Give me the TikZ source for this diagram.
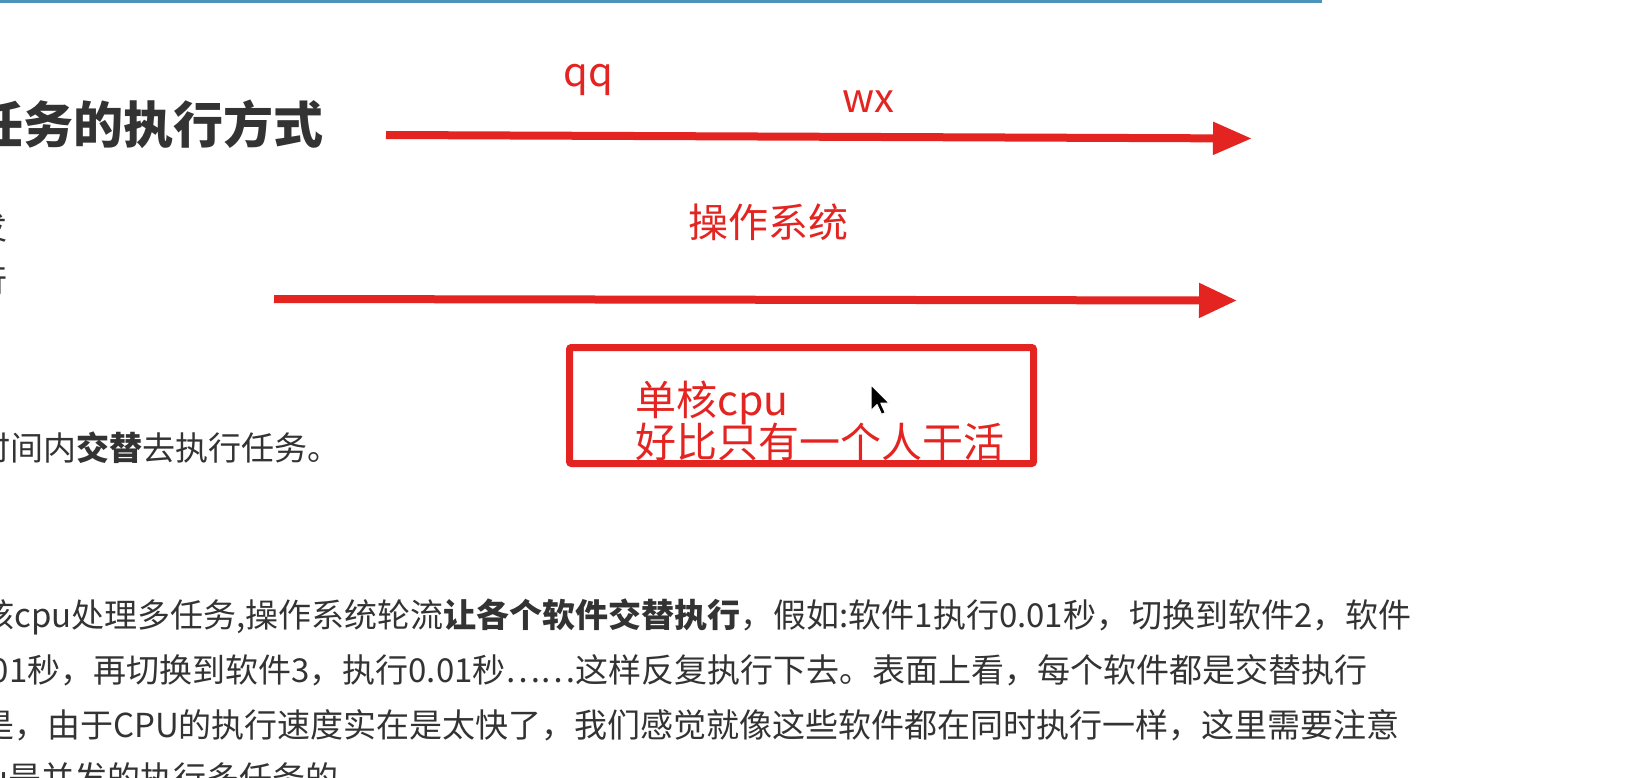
\documentclass[tikz,border=0pt]{standalone}
\usepackage{fontspec}
\setmainfont{Noto Sans CJK SC}
\usetikzlibrary{arrows.meta}
\definecolor{noteRed}{RGB}{228,36,33}
\definecolor{pageText}{RGB}{51,51,51}
\definecolor{ruleBlue}{RGB}{76,148,186}
\begin{document}
\begin{tikzpicture}[x=1pt, y=-1pt]
% Screenshot of a lecture page with red notes on top
\providecommand{\noteArrowWidth}{8pt}
\providecommand{\noteBoxWidth}{7pt}
\tikzset{
  pagetext/.style={inner sep=0pt, anchor=base west, text=pageText, font=\fontsize{33}{33}\selectfont},
  notetext/.style={inner sep=0pt, anchor=base west, text=noteRed, font=\fontsize{40}{40}\selectfont},
  notearrow/.style={draw=noteRed, line width=\noteArrowWidth, line cap=butt}
}
\clip (0,0) rectangle (1650,778);
\fill[white] (0,0) rectangle (1650,778);
% Top rule
\fill[ruleBlue] (0,0) rectangle (1322,3);
% Page text (cut at the left edge)
\node (title) [pagetext, font=\fontsize{50}{50}\selectfont\bfseries] at (-27,144) {任务的执行方式};
\node (itemA) [pagetext] at (-59,239.5) {并发};
\node (itemB) [pagetext] at (-59,293.5) {并行};
\node (concur) [pagetext] at (-23,460.5) {时间内\textbf{交替}去执行任务。};
\node (lineA) [pagetext] at (-19,627) {核cpu处理多任务,操作系统轮流\textbf{让各个软件交替执行}，假如:软件1执行0.01秒，切换到软件2，软件};
\node (lineB) [pagetext] at (-37,682) {0.01秒，再切换到软件3，执行0.01秒……这样反复执行下去。表面上看，每个软件都是交替执行};
\node (lineC) [pagetext] at (-19,737) {是，由于CPU的执行速度实在是太快了，我们感觉就像这些软件都在同时执行一样，这里需要注意};
\node (lineD) [pagetext] at (-49,790) {cpu是并发的执行多任务的。};
% Red notes
\node (qq) [notetext] at (563,87) {qq};
\node (wx) [notetext] at (842,113) {wx};
\node (os) [notetext] at (688,238) {操作系统};
\coordinate (appStart) at (386,135);
\coordinate (appEnd) at (1252,138.5);
\draw[notearrow, -{Triangle[length=39pt, width=31pt]}] (appStart) -- (appEnd);
\coordinate (osStart) at (274,299);
\coordinate (osEnd) at (1237,300.5);
\draw[notearrow, -{Triangle[length=38pt, width=33pt]}] (osStart) -- (osEnd);
\node (cpuA) [notetext, font=\fontsize{41}{41}\selectfont] at (635,415) {单核cpu};
\node (cpuB) [notetext, font=\fontsize{41}{41}\selectfont] at (635,457) {好比只有一个人干活};
\node (cpuBox) [draw=noteRed, line width=\noteBoxWidth, rounded corners=2pt,
  minimum width=464pt, minimum height=116pt, inner sep=0pt] at (801.5,405.5) {};
% Mouse pointer
\begin{scope}[shift={(871,385)}, scale=1.5]
  \filldraw[fill=black, draw=white, line width=1pt, line join=round]
    (0,0) -- (0,17) -- (4,13) -- (7,19.5) -- (9.5,18.5) -- (6.5,12) -- (12,12) -- cycle;
\end{scope}
\end{tikzpicture}
\end{document}
